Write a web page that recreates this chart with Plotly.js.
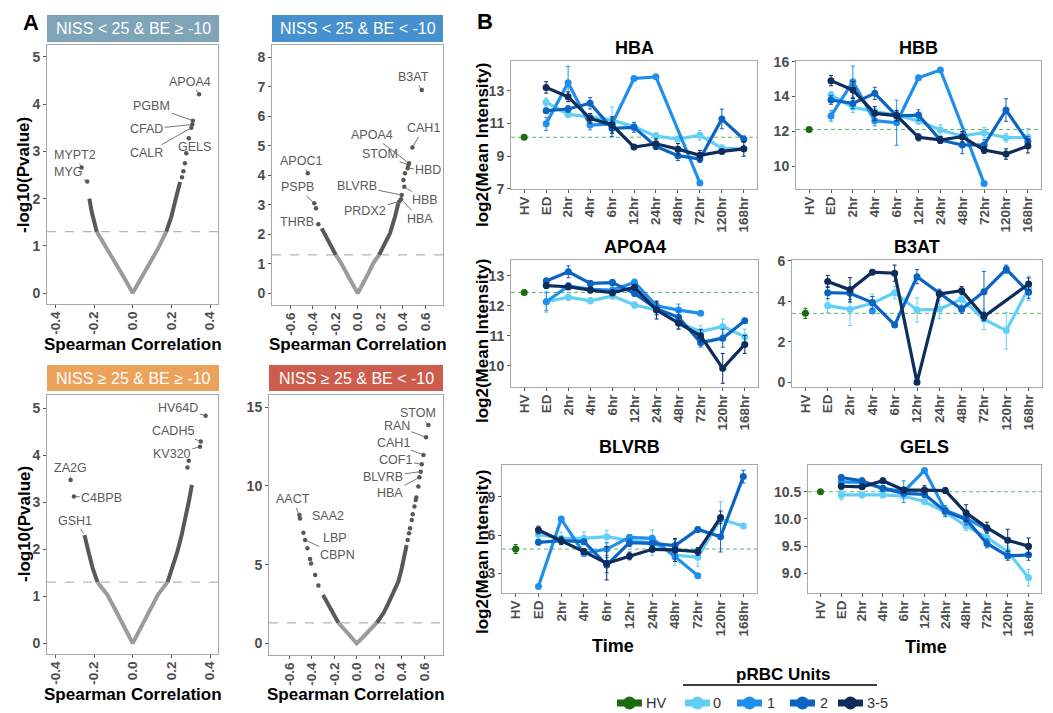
<!DOCTYPE html>
<html><head><meta charset="utf-8">
<script src="https://cdn.plot.ly/plotly-3.0.1.min.js"></script>
<style>body{margin:0;background:#fff}#chart{width:1053px;height:713px}</style>
</head><body><div id="chart"></div>
<script>
// ================= DATA =================
// ---- Panel A: volcano plots (Spearman r, -log10 p) ----
const sigP = 1.301;
// A1: NISS < 25 & BE >= -10
const a1NsR = [-0.186,-0.133,-0.09,-0.048,0,0.046,0.089,0.132,0.174];
const a1NsP = [1.3,0.95,0.64,0.35,0,0.35,0.64,0.95,1.3];
const a1LR = [-0.186,-0.198,-0.212,-0.224];
const a1LP = [1.3,1.47,1.72,2.0];
const a1RR = [0.174,0.2,0.226,0.245];
const a1RP = [1.3,1.62,2.05,2.35];
const a1PtR = [0.255,0.262,0.27,0.277,0.29,0.303,0.308,0.311,0.343,-0.235,-0.264];
const a1PtP = [2.45,2.58,2.75,2.96,3.28,3.50,3.57,3.65,4.21,2.36,2.66];
const a1Lab = ['APOA4','PGBM','CFAD','CALR','GELS','MYPT2','MYG'];
const a1LabR = [0.343,0.311,0.308,0.303,0.29,-0.264,-0.235];
const a1LabP = [4.21,3.65,3.57,3.50,3.28,2.66,2.36];
// A2: NISS < 25 & BE < -10
const a2NsR = [-0.195,-0.148,-0.083,0,0.08,0.139,0.19];
const a2NsP = [1.3,1.02,0.565,0,0.565,1.02,1.3];
const a2LR = [-0.195,-0.246,-0.29,-0.32];
const a2LP = [1.3,1.69,2.03,2.2];
const a2RR = [0.19,0.243,0.287,0.332,0.361];
const a2RP = [1.3,1.69,2.03,2.6,3.05];
const a2PtR = [0.37,0.385,0.391,0.414,0.406,0.42,0.444,0.45,0.456,0.486,0.569,-0.35,-0.371,-0.386,-0.444];
const a2PtP = [3.11,3.19,3.33,3.61,3.84,4.07,4.24,4.35,4.41,4.94,6.89,2.34,2.88,3.05,4.07];
const a2Lab = ['B3AT','CAH1','APOA4','STOM','HBD','BLVRB','HBB','PRDX2','HBA','APOC1','PSPB','THRB'];
const a2LabR = [0.569,0.486,0.456,0.45,0.444,0.391,0.414,0.37,0.385,-0.444,-0.386,-0.35];
const a2LabP = [6.89,4.94,4.41,4.35,4.24,3.33,3.61,3.11,3.19,4.07,3.05,2.34];
// A3: NISS >= 25 & BE >= -10
const a3NsR = [-0.182,-0.131,-0.089,-0.047,0,0.045,0.088,0.13,0.18];
const a3NsP = [1.3,1.03,0.709,0.355,0,0.355,0.709,1.03,1.3];
const a3LR = [-0.182,-0.207,-0.229,-0.241,-0.249];
const a3LP = [1.3,1.6,1.95,2.16,2.3];
const a3RR = [0.18,0.205,0.231,0.253,0.273,0.29,0.306];
const a3RP = [1.3,1.6,1.95,2.3,2.66,3.01,3.37];
const a3PtR = [0.283,0.29,0.348,0.352,0.377,-0.321,-0.304];
const a3PtP = [3.74,3.88,4.18,4.29,4.84,3.47,3.12];
const a3Lab = ['HV64D','CADH5','KV320','ZA2G','C4BPB','GSH1'];
const a3LabR = [0.377,0.352,0.348,-0.321,-0.304,-0.249];
const a3LabP = [4.84,4.29,4.18,3.47,3.12,2.3];
// A4: NISS >= 25 & BE < -10
const a4NsR = [-0.163,-0.119,-0.059,0,0.059,0.119,0.178];
const a4NsP = [1.31,0.95,0.42,0,0.42,0.85,1.31];
const a4LR = [-0.163,-0.222,-0.267,-0.3];
const a4LP = [1.31,2.01,2.65,3.07];
const a4RR = [0.178,0.237,0.281,0.326,0.37,0.4,0.43,0.444];
const a4RP = [1.31,1.91,2.54,3.18,3.92,4.77,5.61,6.25];
const a4PtR = [-0.341,-0.37,-0.406,-0.415,-0.439,-0.459,-0.474,-0.504,-0.51,
               0.453,0.465,0.474,0.489,0.498,0.513,0.524,0.53,0.548,0.557,0.569,0.578,0.593,0.616,0.637];
const a4PtP = [3.67,4.34,5.08,5.36,6.04,6.57,7.03,7.94,8.16,
               6.57,6.99,7.31,7.84,8.2,8.69,9.11,9.26,9.96,10.55,10.91,11.38,11.97,13.09,13.88];
const a4Lab = ['STOM','RAN','CAH1','COF1','BLVRB','HBA','AACT','SAA2','LBP','CBPN'];
const a4LabR = [0.637,0.616,0.593,0.578,0.569,0.557,-0.504,null,null,-0.459];
const a4LabP = [13.88,13.09,11.97,11.38,10.91,10.55,7.94,null,null,6.57];

// ---- Panel B: time courses ----
const timeCats = ['HV','ED','2hr','4hr','6hr','12hr','24hr','48hr','72hr','120hr','168hr'];
const tp = ['ED','2hr','4hr','6hr','12hr','24hr','48hr','72hr','120hr','168hr'];
const seriesNames = ['HV','0','1','2','3-5'];

const hbaHV = 10.15, hbaHVe = 0;
const hba0 = [12.3,11.55,11.4,11.2,10.8,10.22,10.04,10.27,9.48,9.43];
const hba1 = [10.97,13.49,10.9,10.97,13.75,13.85,null,7.35,null,null];
const hba2 = [11.78,11.88,12.23,10.7,10.76,9.59,9.02,8.81,11.27,10.03];
const hba3 = [13.2,12.63,11.31,10.9,9.55,9.75,9.42,9.04,9.28,9.44];
const hba0e = [0.25,0.2,0.15,0.8,0.15,0.2,0.15,0.3,0.2,0.1];
const hba1e = [0.4,1.0,0.3,0.3,0.1,0.1,null,0,null,null];
const hba2e = [0.15,0.2,0.35,0.5,0.3,0.2,0.3,0.2,0.6,0.2];
const hba3e = [0.35,0.3,0.3,0.5,0.1,0.3,0.35,0.3,0.1,0.45];

const hbbHV = 12.1, hbbHVe = 0;
const hbb0 = [14.08,13.38,13.13,12.93,12.6,12.07,11.73,11.92,11.63,11.65];
const hbb1 = [12.88,14.85,12.61,12.49,15.08,15.52,null,9.0,null,null];
const hbb2 = [13.8,13.6,14.18,12.88,12.93,11.5,11.21,11.21,13.22,11.4];
const hbb3 = [14.91,14.37,13.03,12.9,11.65,11.5,11.69,10.92,10.69,11.15];
const hbb0e = [0.2,0.3,0.2,0.2,0.2,0.3,0.2,0.3,0.25,0.5];
const hbb1e = [0.3,0.9,0.3,1.3,0.1,0.1,null,0,null,null];
const hbb2e = [0.25,0.3,0.35,0.3,0.3,0.2,0.5,0.3,0.65,0.3];
const hbb3e = [0.3,0.5,0.4,0.3,0.2,0.2,0.3,0.2,0.3,0.4];

const apoHV = 12.45, apoHVe = 0;
const apo0 = [12.14,12.29,12.17,12.33,12.03,11.86,11.44,11.14,11.31,10.97];
const apo1 = [12.14,12.67,12.55,12.53,12.79,12.0,11.86,11.75,null,null];
const apo2 = [12.83,13.14,12.75,12.78,12.42,11.9,11.62,10.77,10.92,11.5];
const apo3 = [12.68,12.64,12.53,12.44,12.62,11.86,11.42,11.0,9.91,10.71];
const apo0e = [0.35,0.1,0.1,0.1,0.1,0.15,0.2,0.2,0.25,0.25];
const apo1e = [0.3,0.1,0.1,0.15,0.1,0.15,0.2,0,null,null];
const apo2e = [0.1,0.2,0.1,0.1,0.1,0.2,0.2,0.15,0.3,0.05];
const apo3e = [0.1,0.1,0.1,0.1,0.1,0.3,0.2,0.2,0.5,0.3];

const b3HV = 3.4, b3HVe = 0.25;
const b30 = [3.78,3.6,3.9,4.42,3.57,3.6,4.1,3.11,2.55,4.64];
const b31 = [null,null,3.52,null,null,null,null,null,null,null];
const b32 = [4.42,4.39,3.93,2.83,5.21,4.39,3.6,4.47,5.58,4.44];
const b33 = [4.97,4.56,5.43,5.38,0.0,4.36,4.52,3.24,null,4.85];
const b30e = [0.35,0.8,0.45,0.3,0.6,0.45,0.4,0.5,0.9,0.6];
const b31e = [null,null,0,null,null,null,null,null,null,null];
const b32e = [0.3,0.3,0.3,0.1,0.35,0.2,0.2,1.0,0.2,0.3];
const b33e = [0.3,0.6,0.1,0.4,0,0.1,0.2,0.2,null,0.3];

const blvHV = 4.9, blvHVe = 0.35;
const blv0 = [6.05,5.74,5.74,5.87,5.56,5.4,4.43,4.25,7.23,6.7];
const blv1 = [1.96,7.25,4.56,4.9,5.82,5.74,4.3,2.82,null,null];
const blv2 = [5.43,5.56,5.48,3.65,5.4,5.35,5.17,6.44,5.87,10.57];
const blv3 = [6.39,5.56,4.7,3.78,4.36,4.88,4.83,4.7,7.38,null];
const blv0e = [0.3,0.5,0.5,0.5,0.3,1.0,0.8,0.7,1.4,0.1];
const blv1e = [0,0.2,0.2,0.5,0.2,0.1,0.2,0,null,null];
const blv2e = [0.2,0.2,0.2,0.6,0.3,0.2,0.5,0.2,1.2,0.5];
const blv3e = [0.3,0.3,0.2,1.3,0.3,0.2,0.9,0.3,0.5,null];

const gelHV = 10.5, gelHVe = 0;
const gel0 = [10.44,10.44,10.44,10.42,10.32,10.12,9.87,9.66,9.4,8.92];
const gel1 = [10.68,10.67,10.56,10.5,10.89,10.16,10.01,9.81,null,null];
const gel2 = [10.76,10.7,10.56,10.47,10.45,10.14,9.99,9.55,9.32,9.34];
const gel3 = [10.6,10.59,10.7,10.53,10.53,10.52,10.11,9.84,9.61,9.5];
const gel0e = [0.08,0.05,0.05,0.05,0.06,0.05,0.08,0.08,0.1,0.15];
const gel1e = [0.1,0.05,0.05,0.2,0.03,0.05,0.05,0.05,null,null];
const gel2e = [0.05,0.05,0.05,0.05,0.05,0.1,0.1,0.08,0.08,0.1];
const gel3e = [0.05,0.05,0.05,0.05,0.08,0.05,0.15,0.1,0.2,0.15];

// tick labels
const aTick4 = [-0.4,-0.2,0,0.2,0.4], aTick4T = ['-0.4','-0.2','0.0','0.2','0.4'];
const aTick6 = [-0.6,-0.4,-0.2,0,0.2,0.4,0.6], aTick6T = ['-0.6','-0.4','-0.2','0.0','0.2','0.4','0.6'];
const gelTick = [9,9.5,10,10.5], gelTickT = ['9.0','9.5','10.0','10.5'];

// ================= STYLE / LAYOUT =================
const FONT = 'Liberation Sans, Arial, Helvetica, sans-serif';
const W = 1053, H = 713;
const PX = p => p / W, PY = p => 1 - p / H;
const COLS = ['#1C6B0F','#62CFF7','#1F8FEE','#0B63C4','#0D2D5C'];
const NS_COL = '#9b9b9b', SIG_COL = '#585858';

const traces = [];
const layout = {width:W,height:H,margin:{l:0,r:0,t:0,b:0},paper_bgcolor:'#fff',plot_bgcolor:'#fff',
  showlegend:false,font:{family:FONT},shapes:[],annotations:[]};

const axBase = (fs) => ({showline:true,mirror:true,linecolor:'#a8a8a8',linewidth:1,ticks:'outside',ticklen:3,
  tickwidth:1,tickcolor:'#555',showgrid:false,zeroline:false,fixedrange:true,
  tickfont:{family:FONT,size:fs||14,color:'#4d4d4d',weight:'bold'}});

function addAxes(n, xd, yd, xr, yr, xt, xtt, yt, ytt, cat) {
  const xk = n === 1 ? 'xaxis' : 'xaxis' + n, yk = n === 1 ? 'yaxis' : 'yaxis' + n;
  const xa = n === 1 ? 'x' : 'x' + n, ya = n === 1 ? 'y' : 'y' + n;
  const X = Object.assign(axBase(13.5), {domain:[PX(xd[0]),PX(xd[1])], range:xr, anchor:ya, tickangle:-90, ticklabelstandoff:-2});
  if (cat) { X.type = 'category'; X.categoryorder = 'array'; X.categoryarray = timeCats; }
  else { X.tickvals = xt; X.ticktext = xtt; }
  const Y = Object.assign(axBase(14), {domain:[PY(yd[1]),PY(yd[0])], range:yr, anchor:xa, tickvals:yt, ticktext:ytt||yt.map(String)});
  layout[xk] = X; layout[yk] = Y;
  return [xa, ya];
}

// ----- Panel A -----
const aPanels = [
  {xd:[47,218],yd:[45,304],xr:[-0.443,0.441],yr:[-0.233,5.254],xt:aTick4,xtt:aTick4T,yt:[0,1,2,3,4,5],
   ns:[a1NsR,a1NsP],l:[a1LR,a1LP],r:[a1RR,a1RP],pt:[a1PtR,a1PtP],lab:[a1Lab,a1LabR,a1LabP],
   txt:[[0.296,4.48],[0.098,3.96],[0.072,3.47],[0.072,2.96],[0.322,3.10],[-0.298,2.92],[-0.333,2.57]],
   strip:{x:[47,219],y:[15,42],col:'#7FA3B7',text:'NISS &lt; 25 &amp; BE ≥ -10'}},
  {xd:[272,443],yd:[45,305],xr:[-0.762,0.758],yr:[-0.40,8.42],xt:aTick6,xtt:aTick6T,yt:[0,1,2,3,4,5,6,7,8],
   ns:[a2NsR,a2NsP],l:[a2LR,a2LP],r:[a2RR,a2RP],pt:[a2PtR,a2PtP],lab:[a2Lab,a2LabR,a2LabP],
   txt:[[0.494,7.34],[0.583,5.59],[0.124,5.37],[0.198,4.72],[0.628,4.18],[-0.009,3.64],[0.598,3.16],[0.065,2.80],[0.554,2.52],[-0.504,4.48],[-0.537,3.59],[-0.537,2.43]],
   strip:{x:[272,443],y:[15,42],col:'#4590CD',text:'NISS &lt; 25 &amp; BE &lt; -10'}},
  {xd:[47,218],yd:[395,654],xr:[-0.443,0.441],yr:[-0.228,5.28],xt:aTick4,xtt:aTick4T,yt:[0,1,2,3,4,5],
   ns:[a3NsR,a3NsP],l:[a3LR,a3LP],r:[a3RR,a3RP],pt:[a3PtR,a3PtP],lab:[a3Lab,a3LabR,a3LabP],
   txt:[[0.236,5.01],[0.21,4.52],[0.202,4.02],[-0.324,3.72],[-0.16,3.10],[-0.298,2.61]],
   strip:{x:[47,219],y:[365,391],col:'#EBA35B',text:'NISS ≥ 25 &amp; BE ≥ -10'}},
  {xd:[269,443],yd:[395,655],xr:[-0.78,0.767],yr:[-0.74,15.78],xt:aTick6,xtt:aTick6T,yt:[0,5,10,15],
   ns:[a4NsR,a4NsP],l:[a4LR,a4LP],r:[a4RR,a4RP],pt:[a4PtR,a4PtP],lab:[a4Lab,a4LabR,a4LabP],
   txt:[[0.548,14.66],[0.356,13.81],[0.326,12.71],[0.349,11.65],[0.237,10.59],[0.296,9.54],[-0.563,9.15],[-0.258,8.09],[-0.193,6.71],[-0.169,5.61]],
   strip:{x:[269,443],y:[365,391],col:'#CE5C4C',text:'NISS ≥ 25 &amp; BE &lt; -10'}}
];

aPanels.forEach((p, i) => {
  const [xa, ya] = addAxes(i + 1, p.xd, p.yd, p.xr, p.yr, p.xt, p.xtt, p.yt, null, false);
  const base = {xaxis:xa, yaxis:ya, hoverinfo:'skip', cliponaxis:true};
  traces.push(Object.assign({x:p.ns[0], y:p.ns[1], mode:'lines', line:{color:NS_COL,width:4}}, base));
  traces.push(Object.assign({x:p.l[0], y:p.l[1], mode:'lines', line:{color:SIG_COL,width:4}}, base));
  traces.push(Object.assign({x:p.r[0], y:p.r[1], mode:'lines', line:{color:SIG_COL,width:4}}, base));
  traces.push(Object.assign({x:p.pt[0], y:p.pt[1], mode:'markers', marker:{color:SIG_COL,size:4.5}}, base));
  layout.shapes.push({type:'line', xref:xa + ' domain', yref:ya, x0:0, x1:1, y0:sigP, y1:sigP,
    line:{color:'#b5b5b5', width:1.2, dash:'dash'}, layer:'below'});
  const [names, lr, lp] = p.lab;
  names.forEach((nm, k) => {
    const t = p.txt[k];
    const ann = {xref:xa, yref:ya, text:nm, font:{family:FONT,size:12.5,color:'#5a5a5a'}};
    if (lr[k] === null) { Object.assign(ann, {x:t[0], y:t[1], showarrow:false}); }
    else Object.assign(ann, {x:lr[k], y:lp[k], ax:t[0], ay:t[1], axref:xa, ayref:ya, showarrow:true,
      arrowhead:0, arrowwidth:0.9, arrowcolor:'#666', standoff:2});
    layout.annotations.push(ann);
  });
  const s = p.strip;
  layout.shapes.push({type:'rect', xref:'paper', yref:'paper', x0:PX(s.x[0]), x1:PX(s.x[1]), y0:PY(s.y[1]), y1:PY(s.y[0]),
    fillcolor:s.col, line:{width:0}});
  layout.annotations.push({xref:'paper', yref:'paper', x:PX((s.x[0]+s.x[1])/2), y:PY((s.y[0]+s.y[1])/2),
    text:s.text, showarrow:false, font:{family:FONT,size:16,color:'#ffffff'}, xanchor:'center', yanchor:'middle'});
  layout.annotations.push({xref:'paper', yref:'paper', x:PX((p.xd[0]+p.xd[1])/2), y:PY(i < 2 ? 344 : 694),
    text:'Spearman Correlation', showarrow:false, font:{family:FONT,size:17,color:'#000',weight:'bold'}, xanchor:'center', yanchor:'middle'});
});
[175, 524].forEach(yc => layout.annotations.push({xref:'paper', yref:'paper', x:PX(24), y:PY(yc), text:'-log10(Pvalue)',
  textangle:-90, showarrow:false, font:{family:FONT,size:17,color:'#000',weight:'bold'}, xanchor:'center', yanchor:'middle'}));

// ----- Panel B -----
const bPanels = [
  {title:'HBA',xd:[511,757],yd:[61,189],yr:[6.98,14.82],yt:[7,9,11,13],hv:[hbaHV,hbaHVe],s:[hba0,hba1,hba2,hba3],e:[hba0e,hba1e,hba2e,hba3e],ty:48},
  {title:'HBB',xd:[796,1041],yd:[61,189],yr:[8.68,16.04],yt:[10,12,14,16],hv:[hbbHV,hbbHVe],s:[hbb0,hbb1,hbb2,hbb3],e:[hbb0e,hbb1e,hbb2e,hbb3e],ty:48},
  {title:'APOA4',xd:[511,758],yd:[260,387],yr:[9.286,13.535],yt:[10,11,12,13],hv:[apoHV,apoHVe],s:[apo0,apo1,apo2,apo3],e:[apo0e,apo1e,apo2e,apo3e],ty:247},
  {title:'B3AT',xd:[792,1042],yd:[260,387],yr:[-0.23,6.03],yt:[0,2,4,6],hv:[b3HV,b3HVe],s:[b30,b31,b32,b33],e:[b30e,b31e,b32e,b33e],ty:247},
  {title:'BLVRB',xd:[502,757],yd:[465,593],yr:[1.46,11.48],yt:[3,6,9],hv:[blvHV,blvHVe],s:[blv0,blv1,blv2,blv3],e:[blv0e,blv1e,blv2e,blv3e],ty:447},
  {title:'GELS',xd:[808,1041],yd:[465,593],yr:[8.64,10.99],yt:gelTick,ytt:gelTickT,hv:[gelHV,gelHVe],s:[gel0,gel1,gel2,gel3],e:[gel0e,gel1e,gel2e,gel3e],ty:447}
];

bPanels.forEach((p, i) => {
  const [xa, ya] = addAxes(i + 5, p.xd, p.yd, [-0.6, 10.6], p.yr, null, null, p.yt, p.ytt, true);
  layout.shapes.push({type:'line', xref:xa + ' domain', yref:ya, x0:0, x1:1, y0:p.hv[0], y1:p.hv[0],
    line:{color:'#5cb870', width:1, dash:'4px,3px'}, layer:'below'});
  traces.push({x:['HV'], y:[p.hv[0]], xaxis:xa, yaxis:ya, mode:'markers', marker:{color:COLS[0], size:7},
    error_y:{type:'data', array:[p.hv[1]], visible:true, color:COLS[0], thickness:1, width:2}, hoverinfo:'skip'});
  p.s.forEach((vals, k) => {
    const xs = [], ys = [], es = [];
    vals.forEach((v, j) => { if (v !== null) { xs.push(tp[j]); ys.push(v); es.push(p.e[k][j] || 0); } });
    traces.push({x:xs, y:ys, xaxis:xa, yaxis:ya, mode:'lines+markers', line:{color:COLS[k+1], width:3.2},
      marker:{color:COLS[k+1], size:7}, error_y:{type:'data', array:es, visible:true, color:COLS[k+1], thickness:1, width:2},
      hoverinfo:'skip'});
  });
  layout.annotations.push({xref:'paper', yref:'paper', x:PX((p.xd[0]+p.xd[1])/2), y:PY(p.ty), text:p.title,
    showarrow:false, font:{family:FONT,size:18,color:'#000',weight:'bold'}, xanchor:'center', yanchor:'middle'});
});
[145, 341, 552].forEach(yc => layout.annotations.push({xref:'paper', yref:'paper', x:PX(482), y:PY(yc),
  text:'log2(Mean Intensity)', textangle:-90, showarrow:false, font:{family:FONT,size:17,color:'#000',weight:'bold'}, xanchor:'center', yanchor:'middle'}));
[[613,646],[926,647]].forEach(pt => layout.annotations.push({xref:'paper', yref:'paper', x:PX(pt[0]), y:PY(pt[1]),
  text:'Time', showarrow:false, font:{family:FONT,size:18,color:'#000',weight:'bold'}, xanchor:'center', yanchor:'middle'}));

// panel letters
layout.annotations.push({xref:'paper', yref:'paper', x:PX(31), y:PY(23), text:'A', showarrow:false,
  font:{family:FONT,size:22,color:'#000',weight:'bold'}, xanchor:'center', yanchor:'middle'});
layout.annotations.push({xref:'paper', yref:'paper', x:PX(485), y:PY(21), text:'B', showarrow:false,
  font:{family:FONT,size:22,color:'#000',weight:'bold'}, xanchor:'center', yanchor:'middle'});

// ----- legend -----
layout.annotations.push({xref:'paper', yref:'paper', x:PX(783), y:PY(674), text:'pRBC Units', showarrow:false,
  font:{family:FONT,size:17,color:'#000',weight:'bold'}, xanchor:'center', yanchor:'middle'});
layout.shapes.push({type:'line', xref:'paper', yref:'paper', x0:PX(683), x1:PX(877), y0:PY(685), y1:PY(685), line:{color:'#000', width:1.3}});
const legX = [617, 685, 737, 790, 838], legTX = [656, 717, 771, 824, 877];
seriesNames.forEach((nm, k) => {
  const x0 = legX[k], x1 = legX[k] + 25, cx = (x0 + x1) / 2;
  layout.shapes.push({type:'line', xref:'paper', yref:'paper', x0:PX(x0), x1:PX(x1), y0:PY(703), y1:PY(703), line:{color:COLS[k], width:7}});
  layout.shapes.push({type:'circle', xref:'paper', yref:'paper', x0:PX(cx-6.5), x1:PX(cx+6.5), y0:PY(709.5), y1:PY(696.5),
    fillcolor:COLS[k], line:{width:0}});
  layout.annotations.push({xref:'paper', yref:'paper', x:PX(legTX[k]), y:PY(703), text:nm, showarrow:false,
    font:{family:FONT,size:14.5,color:'#333'}, xanchor:'center', yanchor:'middle'});
});

Plotly.newPlot('chart', traces, layout, {staticPlot:true, displayModeBar:false});
</script>
</body></html>
